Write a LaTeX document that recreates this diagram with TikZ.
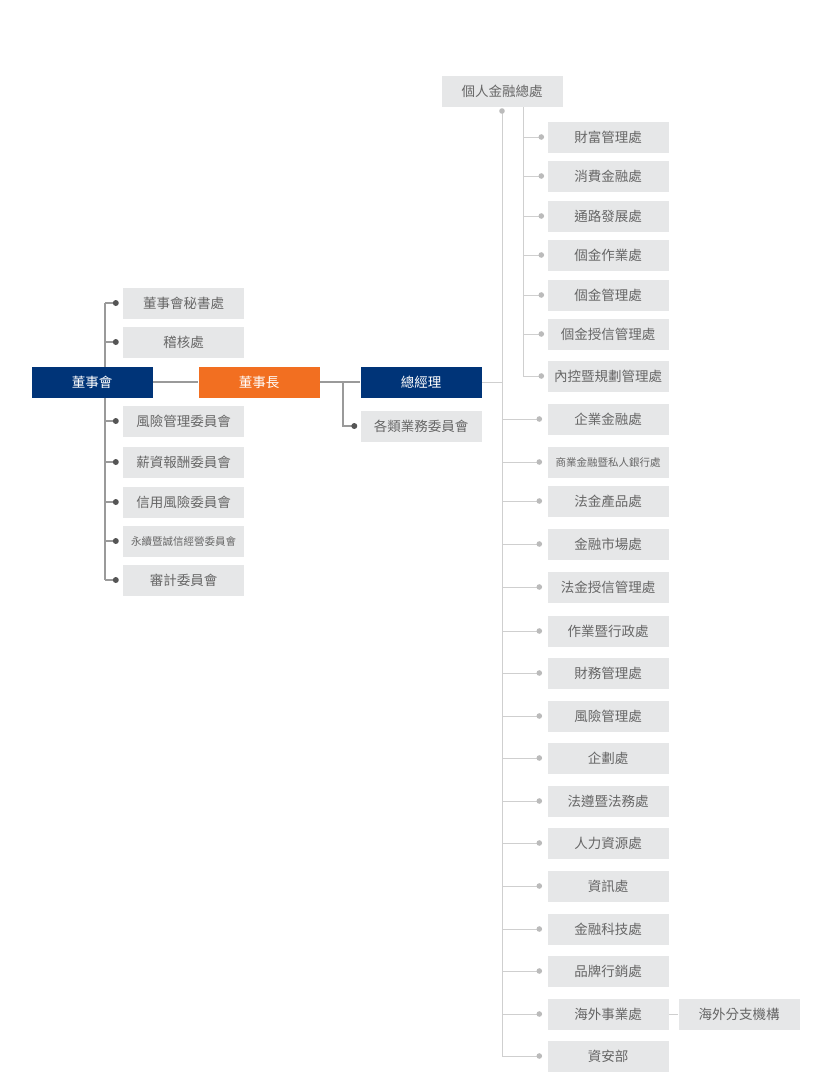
\documentclass[tikz,border=0pt]{standalone}
\usepackage{fontspec}
\setmainfont{Noto Sans CJK TC}
\pgfdeclarelayer{background}
\pgfsetlayers{background,main}
\begin{document}
\begin{tikzpicture}[x=1pt,y=-1pt,
  box/.style={minimum width=121pt,minimum height=31pt,inner sep=0pt,font=\fontsize{13.5}{16}\selectfont},
  gbox/.style={box,fill=boxgray,text=txtgray},
  bbox/.style={box,fill=navy,text=white},
  obox/.style={box,fill=orng,text=white},
  small/.style={font=\fontsize{10.5}{12}\selectfont},
  lline/.style={draw=lgray,line width=1.5pt},
  rline/.style={draw=rgray,line width=1pt},
  ldot/.style={fill=dgray},
  rdot/.style={fill=rdotc}]
\definecolor{boxgray}{HTML}{E6E7E8}
\definecolor{txtgray}{HTML}{666666}
\definecolor{navy}{HTML}{003478}
\definecolor{orng}{HTML}{F26F21}
\definecolor{lgray}{HTML}{9A9A9A}
\definecolor{rgray}{HTML}{CFCFCF}
\definecolor{dgray}{HTML}{555555}
\definecolor{rdotc}{HTML}{BBBBBB}
\useasboundingbox (0,0) rectangle (813,1084);

% main nodes
\node[bbox] (dsh) at (92,382) {董事會};
\node[obox] (dsz) at (259,382) {董事長};
\node[bbox] (zjl) at (421,382) {總經理};
\node[gbox] (glyw) at (421,426) {各類業務委員會};

% left children
\node[gbox] (l1) at (183.5,303) {董事會秘書處};
\node[gbox] (l2) at (183.5,342) {稽核處};
\node[gbox] (l3) at (183.5,421) {風險管理委員會};
\node[gbox] (l4) at (183.5,462) {薪資報酬委員會};
\node[gbox] (l5) at (183.5,502) {信用風險委員會};
\node[gbox,small] (l6) at (183.5,541) {永續暨誠信經營委員會};
\node[gbox] (l7) at (183.5,580) {審計委員會};

% personal finance
\node[gbox] (grjr) at (502,91) {個人金融總處};
\node[gbox] (p1) at (608,137) {財富管理處};
\node[gbox] (p2) at (608,176) {消費金融處};
\node[gbox] (p3) at (608,216) {通路發展處};
\node[gbox] (p4) at (608,255) {個金作業處};
\node[gbox] (p5) at (608,295) {個金管理處};
\node[gbox] (p6) at (608,334) {個金授信管理處};
\node[gbox] (p7) at (608,376) {內控暨規劃管理處};

% other departments
\node[gbox] (r1) at (608,419) {企業金融處};
\node[gbox,small] (r2) at (608,462) {商業金融暨私人銀行處};
\node[gbox] (r3) at (608,501) {法金產品處};
\node[gbox] (r4) at (608,544) {金融市場處};
\node[gbox] (r5) at (608,587) {法金授信管理處};
\node[gbox] (r6) at (608,631) {作業暨行政處};
\node[gbox] (r7) at (608,673) {財務管理處};
\node[gbox] (r8) at (608,716) {風險管理處};
\node[gbox] (r9) at (608,758) {企劃處};
\node[gbox] (r10) at (608,801) {法遵暨法務處};
\node[gbox] (r11) at (608,843) {人力資源處};
\node[gbox] (r12) at (608,886) {資訊處};
\node[gbox] (r13) at (608,929) {金融科技處};
\node[gbox] (r14) at (608,971) {品牌行銷處};
\node[gbox] (r15) at (608,1014) {海外事業處};
\node[gbox] (r16) at (608,1056) {資安部};
\node[gbox] (hwfz) at (739,1014) {海外分支機構};

\begin{pgfonlayer}{background}
% left connectors
\coordinate (lb) at (105,382);
\draw[lline] (dsh) -- (dsz);
\draw[lline] (lb |- l1) -- (lb |- l7);
\foreach \c in {l1,l2,l3,l4,l5,l6,l7}{
  \draw[lline] (lb |- \c) -- ([xshift=-7pt]\c.west);
  \fill[ldot] ([xshift=-7pt]\c.west) circle (3pt);
}
\draw[lline] (dsz) -- (zjl);
\coordinate (mb) at (343,382);
\draw[lline] (mb) -- (mb |- glyw) -- ([xshift=-6pt]glyw.west);
\fill[ldot] ([xshift=-6pt]glyw.west) circle (3pt);

% right connectors
\coordinate (rb) at (502,382);
\coordinate (rtop) at (502,111);
\draw[rline] (zjl) -- (rb);
\draw[rline] (rtop) -- (rb |- r16);
\fill[rdot] (rtop) circle (2.8pt);
\foreach \c in {r1,r2,r3,r4,r5,r6,r7,r8,r9,r10,r11,r12,r13,r14,r15,r16}{
  \draw[rline] (rb |- \c) -- ([xshift=-8pt]\c.west);
  \fill[rdot] ([xshift=-8pt]\c.west) circle (2.8pt);
}
\coordinate (pb) at (523,106);
\draw[rline] (pb) -- (pb |- p7);
\foreach \c in {p1,p2,p3,p4,p5,p6,p7}{
  \draw[rline] (pb |- \c) -- ([xshift=-6pt]\c.west);
  \fill[rdot] ([xshift=-6pt]\c.west) circle (2.8pt);
}
\draw[rline] (r15) -- (hwfz);
\end{pgfonlayer}
\end{tikzpicture}
\end{document}
